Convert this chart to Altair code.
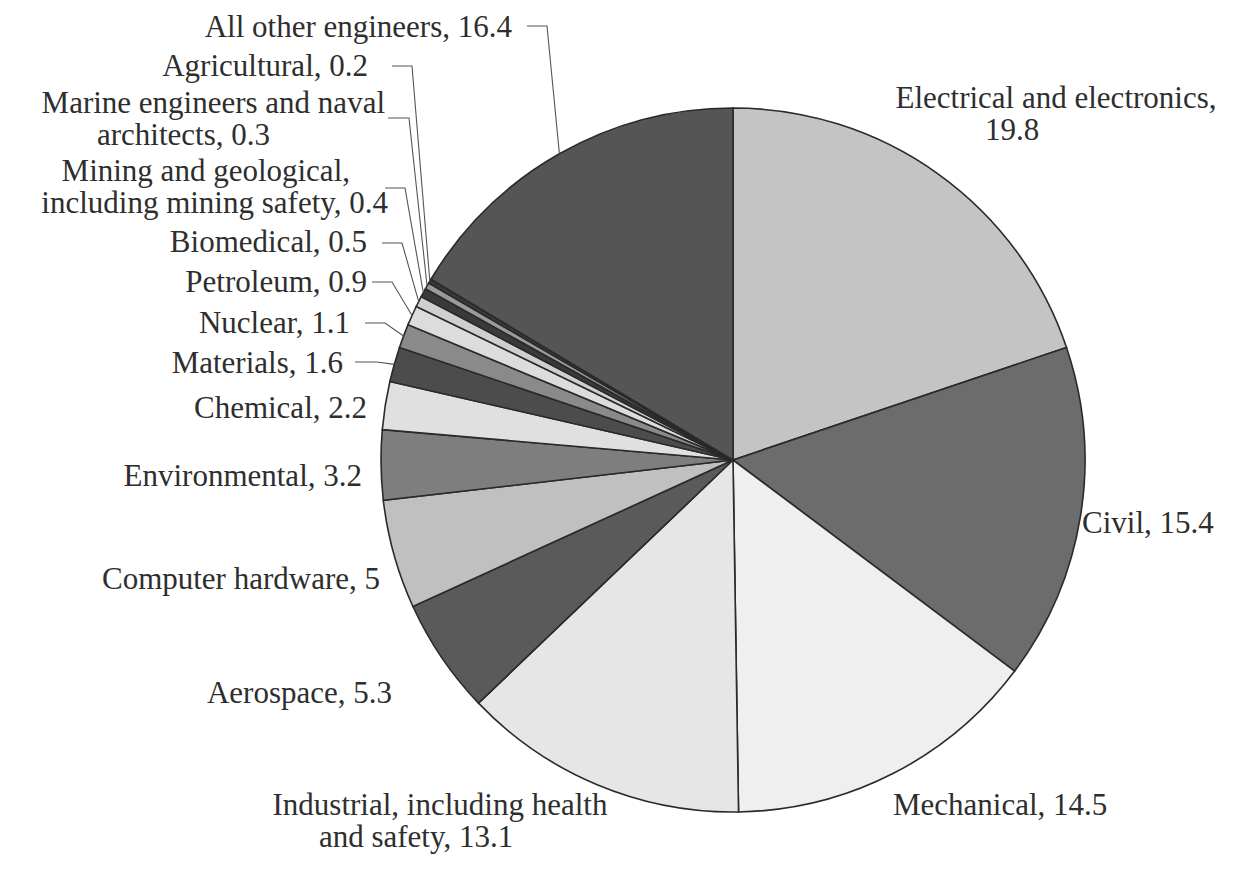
import math
import altair as alt
import pandas as pd

# ---- data ----
categories = [
    "Electrical and electronics", "Civil", "Mechanical",
    "Industrial, including health and safety", "Aerospace", "Computer hardware",
    "Environmental", "Chemical", "Materials", "Nuclear", "Petroleum", "Biomedical",
    "Mining and geological, including mining safety",
    "Marine engineers and naval architects", "Agricultural", "All other engineers",
]
values = [19.8, 15.4, 14.5, 13.1, 5.3, 5, 3.2, 2.2, 1.6, 1.1, 0.9, 0.5, 0.4, 0.3, 0.2, 16.4]

# ---- styles ----
colors = ["#c4c4c4", "#6c6c6c", "#efefef", "#e6e6e6", "#5a5a5a", "#c0c0c0",
          "#7e7e7e", "#e0e0e0", "#4c4c4c", "#8a8a8a", "#dcdcdc", "#cfcfcf",
          "#3a3a3a", "#9a9a9a", "#3a3a3a", "#555555"]

# ---- layout (page pixel coordinates) ----
W, H = 1223, 862
CX, CY, R = 733, 460, 352
FONT = "Liberation Serif"
FS = 31
TXT = "#2e2e2e"

# label lines: text, x, baseline y, align
label_lines = [
    ("All other engineers, 16.4", 512, 37, "right"),
    ("Agricultural, 0.2", 368, 76, "right"),
    ("Marine engineers and naval", 385, 113, "right"),
    ("architects, 0.3", 270, 145, "right"),
    ("Mining and geological,", 350, 181, "right"),
    ("including mining safety, 0.4", 388, 213, "right"),
    ("Biomedical, 0.5", 367, 252, "right"),
    ("Petroleum, 0.9", 367, 292, "right"),
    ("Nuclear, 1.1", 350, 333, "right"),
    ("Materials, 1.6", 343, 373, "right"),
    ("Chemical, 2.2", 367, 418, "right"),
    ("Environmental, 3.2", 362, 486, "right"),
    ("Computer hardware, 5", 380, 589, "right"),
    ("Aerospace, 5.3", 392, 703, "right"),
    ("Industrial, including health", 440, 815, "center"),
    ("and safety, 13.1", 416, 847, "center"),
    ("Mechanical, 14.5", 893, 815, "left"),
    ("Civil, 15.4", 1082, 533, "left"),
    ("Electrical and electronics,", 1056, 108, "center"),
    ("19.8", 1012, 140, "center"),
]

# leader lines: category, start x, corner x, y
leaders = [
    ("All other engineers", 527, 547, 26),
    ("Agricultural", 392, 412, 66),
    ("Marine engineers and naval architects", 388, 409, 118),
    ("Mining and geological, including mining safety", 385, 405, 188),
    ("Biomedical", 382, 402, 243),
    ("Petroleum", 372, 392, 282),
    ("Nuclear", 365, 385, 323),
    ("Materials", 355, 377, 362),
]

# ---- build tables ----
pie_df = pd.DataFrame({"category": categories, "value": values, "idx": list(range(len(values)))})

total = sum(values)
mid_angle = {}
cum = 0.0
for c, v in zip(categories, values):
    mid_angle[c] = (cum + v / 2) / total * 2 * math.pi
    cum += v

lead_rows = []
for cat, x0, x1, y in leaders:
    a = mid_angle[cat]
    ex = CX + R * math.sin(a)
    ey = CY - R * math.cos(a)
    lead_rows += [
        {"cat": cat, "o": 0, "x": x0, "y": y},
        {"cat": cat, "o": 1, "x": x1, "y": y},
        {"cat": cat, "o": 2, "x": ex, "y": ey},
    ]
lead_df = pd.DataFrame(lead_rows)

lab_df = pd.DataFrame(label_lines, columns=["text", "x", "y", "align"])

xs = alt.Scale(domain=[8, 8 + W], range=[0, W])
ys = alt.Scale(domain=[8, 8 + H], range=[0, H])

pie = alt.Chart(pie_df).mark_arc(
    outerRadius=R, stroke="#2a2a2a", strokeWidth=1.6
).encode(
    theta=alt.Theta("value:Q", stack=True),
    color=alt.Color("category:N", scale=alt.Scale(domain=categories, range=colors), legend=None),
    order=alt.Order("idx:Q"),
    x=alt.value(CX - 8),
    y=alt.value(CY - 8),
)

lines = alt.Chart(lead_df).mark_line(color="#555555", strokeWidth=1.1).encode(
    x=alt.X("x:Q", scale=xs, axis=None),
    y=alt.Y("y:Q", scale=ys, axis=None),
    detail="cat:N",
    order="o:Q",
)

def text_layer(al):
    return alt.Chart(lab_df).transform_filter(
        alt.datum.align == al
    ).mark_text(
        align=al, baseline="alphabetic", font=FONT, fontSize=FS, color=TXT
    ).encode(
        x=alt.X("x:Q", scale=xs, axis=None),
        y=alt.Y("y:Q", scale=ys, axis=None),
        text="text:N",
    )

chart = alt.layer(
    pie, lines, text_layer("right"), text_layer("center"), text_layer("left")
).properties(
    width=W, height=H, padding=0,
    autosize=alt.AutoSizeParams(type="none"),
    background="white",
).configure_view(stroke=None)

chart.save("out.html", embed_options={"renderer": "svg", "actions": False})
